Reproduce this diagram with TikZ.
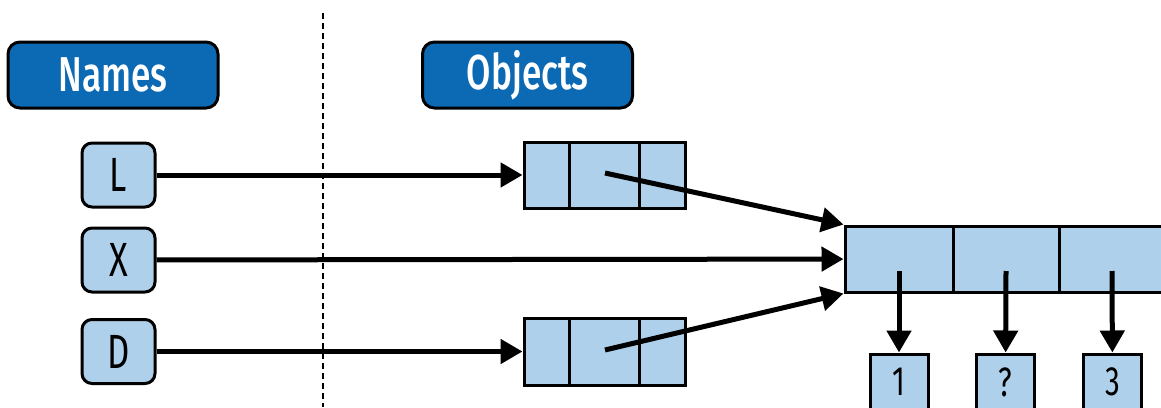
\documentclass[tikz,border=0pt]{standalone}
\usepackage{fontspec}
\setmainfont[FakeStretch=0.72]{Fira Sans}
\newfontfamily\headfont[FakeStretch=0.72]{Fira Sans Medium}
\usetikzlibrary{arrows.meta}
\definecolor{hdblue}{RGB}{12,106,180}
\definecolor{cellblue}{RGB}{174,208,234}
\begin{document}
\begin{tikzpicture}[x=1pt,y=-1pt,
  header/.style={draw=black, line width=3pt, fill=hdblue, rounded corners=12pt, text=white, font=\headfont\fontsize{49}{49}\selectfont, minimum width=210pt, minimum height=66pt, inner sep=0pt},
  namebox/.style={draw=black, line width=3pt, fill=cellblue, rounded corners=10pt, font=\fontsize{48}{48}\selectfont, minimum width=73pt, minimum height=64pt, inner sep=0pt},
  cell/.style={draw=black, line width=3pt, fill=cellblue, inner sep=0pt},
  valbox/.style={draw=black, line width=3pt, fill=cellblue, font=\fontsize{41}{41}\selectfont, minimum width=58pt, minimum height=56pt, inner sep=0pt},
  ref/.style={line width=5pt, -{Triangle[length=22pt,width=24pt]}}]
\useasboundingbox (0,0) rectangle (1161,407);
\draw[line width=2.2pt, dash pattern=on 6pt off 4pt] (323,13) -- (323,407);
\node[header] (names) at (113,75){Names};
\node[header] (objects) at (527.5,75){Objects};
\node[namebox] (nL) at (118.5,175){L};
\node[namebox] (nX) at (118.5,260){X};
\node[namebox] (nD) at (118.5,351.5){D};
% upper object
\node[cell, minimum width=45pt, minimum height=66pt] (oa1) at (546.5,175){};
\node[cell, minimum width=70pt, minimum height=66pt] (oa2) at (604,175){};
\node[cell, minimum width=46pt, minimum height=66pt] (oa3) at (662,175){};
% lower object
\node[cell, minimum width=45pt, minimum height=67pt] (ob1) at (546.5,351.5){};
\node[cell, minimum width=70pt, minimum height=67pt] (ob2) at (604,351.5){};
\node[cell, minimum width=46pt, minimum height=67pt] (ob3) at (662,351.5){};
% shared list
\node[cell, minimum width=108pt, minimum height=66pt] (ls1) at (899,259){};
\node[cell, minimum width=106pt, minimum height=66pt] (ls2) at (1006,259){};
\node[cell, minimum width=108pt, minimum height=66pt] (ls3) at (1113,259){};
\node[valbox] (v1) at (899,382){1};
\node[valbox] (v2) at (1005.5,382){?};
\node[valbox] (v3) at (1112.5,382){3};
\coordinate (pa) at (605,173);
\coordinate (pb) at (605,350);
\coordinate (p1) at (899,271);
\coordinate (p2) at (1006,271);
\coordinate (p3) at (1112,271);
\draw[ref] (nL) -- (oa1);
\draw[ref] (nX) -- (ls1);
\draw[ref] (nD) -- (ob1);
\draw[ref] (pa) -- (ls1.north west);
\draw[ref] (pb) -- (ls1.south west);
\draw[ref] (p1) -- (v1);
\draw[ref] (p2) -- (v2);
\draw[ref] (p3) -- (v3);
\end{tikzpicture}
\end{document}
